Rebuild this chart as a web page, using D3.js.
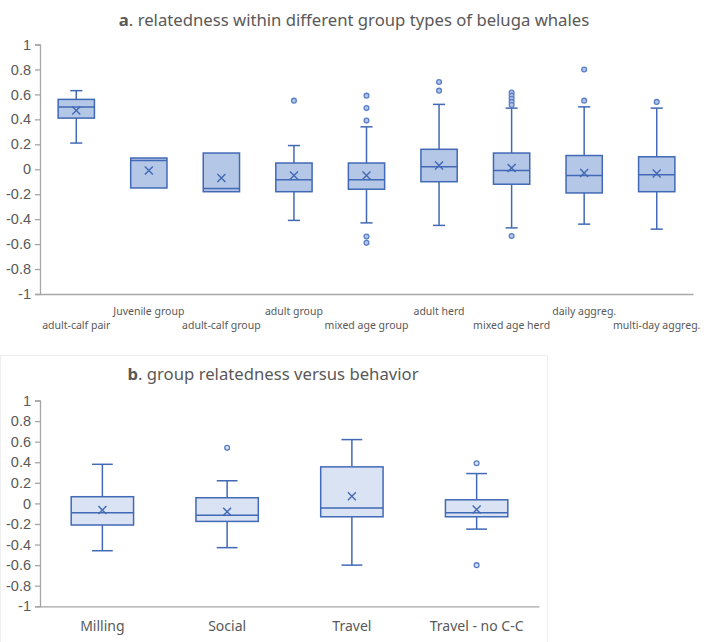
<!DOCTYPE html>
<html>
<head>
<meta charset="utf-8">
<script src="https://cdn.jsdelivr.net/npm/d3@7"></script>
<style>
  html, body { margin: 0; padding: 0; background: #fff; }
  svg { display: block; font-family: "Noto Sans", "Open Sans", sans-serif; }
</style>
</head>
<body>
<svg id="chart" width="708" height="642"></svg>
<script>
// ---------- Panel a data ----------
const categoriesA = ["adult-calf pair", "Juvenile group", "adult-calf group", "adult group",
  "mixed age group", "adult herd", "mixed age herd", "daily aggreg.", "multi-day aggreg."];
const whiskerLowA  = [0.21, -0.15, -0.18, -0.41, -0.43, -0.45, -0.47, -0.44, -0.48];
const q1A          = [0.41, -0.15, -0.18, -0.18, -0.16, -0.10, -0.12, -0.19, -0.18];
const medianA      = [0.50,  0.07, -0.155, -0.085, -0.085, 0.02, -0.01, -0.05, -0.045];
const q3A          = [0.56,  0.09,  0.13,  0.05,  0.05,  0.16,  0.13,  0.11,  0.10];
const whiskerHighA = [0.63,  0.09,  0.13,  0.19,  0.34,  0.52,  0.49,  0.50,  0.49];
const meanA        = [0.47, -0.01, -0.07, -0.05, -0.05,  0.03,  0.01, -0.03, -0.035];
const outliersA    = [[], [], [], [0.55], [0.59, 0.49, 0.39, -0.54, -0.59], [0.70, 0.63],
  [0.615, 0.59, 0.565, 0.54, 0.515, -0.535], [0.80, 0.55], [0.54]];
const yTicksA = [1, 0.8, 0.6, 0.4, 0.2, 0, -0.2, -0.4, -0.6, -0.8, -1];

// ---------- Panel b data ----------
const categoriesB = ["Milling", "Social", "Travel", "Travel - no C-C"];
const whiskerLowB  = [-0.46, -0.43, -0.60, -0.25];
const q1B          = [-0.21, -0.175, -0.13, -0.13];
const medianB      = [-0.09, -0.115, -0.045, -0.09];
const q3B          = [0.065, 0.055, 0.355, 0.035];
const whiskerHighB = [0.38, 0.22, 0.62, 0.29];
const meanB        = [-0.065, -0.08, 0.07, -0.06];
const outliersB    = [[], [0.54], [], [0.39, -0.60]];
const yTicksB = [1, 0.8, 0.6, 0.4, 0.2, 0, -0.2, -0.4, -0.6, -0.8, -1];

const svg = d3.select("#chart");
const textColor = "#595959";
const axisColor = "#a6a6a6";
const strokeColor = "#4169b5";

// faint chart-area frame of panel b
svg.append("rect").attr("x", 0.5).attr("y", 355.5).attr("width", 547).attr("height", 290)
  .attr("fill", "none").attr("stroke", "#eeeeee");

function panel(opts) {
  const g = svg.append("g");
  const x = d3.scaleBand().domain(opts.cats).range([opts.x0, opts.x1]).paddingInner(0.5).paddingOuter(0.25);
  const y = d3.scaleLinear().domain([-1, 1]).range([opts.yBottom, opts.yTop]);

  // y axis
  const yAxis = d3.axisLeft(y).tickValues(opts.yTicks).tickSize(5).tickPadding(4)
    .tickFormat(d => String(+d.toFixed(1)));
  const ya = g.append("g").attr("transform", `translate(${opts.x0},0)`).call(yAxis);
  ya.select(".domain").attr("stroke", axisColor).attr("stroke-width", 1.3);
  ya.selectAll(".tick line").attr("stroke", axisColor).attr("stroke-width", 1.3);
  ya.selectAll(".tick text").attr("fill", textColor).style("font-size", opts.tickSize + "px");

  // x axis (at -1)
  const xAxis = d3.axisBottom(x).tickSize(0).tickPadding(0).tickFormat("");
  const xa = g.append("g").attr("transform", `translate(0,${opts.yBottom})`).call(xAxis);
  xa.select(".domain").attr("stroke", axisColor).attr("stroke-width", 1.3);

  // category labels
  g.selectAll(".cat").data(opts.cats).join("text")
    .attr("class", "cat")
    .attr("x", d => x(d) + x.bandwidth() / 2)
    .attr("y", (d, i) => opts.stagger ? (i % 2 === 0 ? opts.labelY2 : opts.labelY1) : opts.labelY1)
    .attr("text-anchor", "middle")
    .attr("fill", textColor)
    .style("font-size", opts.catSize + "px")
    .text(d => d);

  const bw = x.bandwidth();
  const cap = bw / 3;
  const rows = opts.cats.map((c, i) => ({
    c, lo: opts.lo[i], q1: opts.q1[i], med: opts.med[i], q3: opts.q3[i], hi: opts.hi[i],
    mean: opts.mean[i], out: opts.out[i]
  }));
  const box = g.selectAll(".box").data(rows).join("g").attr("class", "box");

  // whiskers
  box.append("line")
    .attr("x1", d => x(d.c) + bw / 2).attr("x2", d => x(d.c) + bw / 2)
    .attr("y1", d => y(d.hi)).attr("y2", d => y(d.q3))
    .attr("stroke", strokeColor).attr("stroke-width", 1.5);
  box.append("line")
    .attr("x1", d => x(d.c) + bw / 2).attr("x2", d => x(d.c) + bw / 2)
    .attr("y1", d => y(d.q1)).attr("y2", d => y(d.lo))
    .attr("stroke", strokeColor).attr("stroke-width", 1.5);
  box.filter(d => d.hi > d.q3).append("line")
    .attr("x1", d => x(d.c) + bw / 2 - cap / 2).attr("x2", d => x(d.c) + bw / 2 + cap / 2)
    .attr("y1", d => y(d.hi)).attr("y2", d => y(d.hi))
    .attr("stroke", strokeColor).attr("stroke-width", 1.5);
  box.filter(d => d.lo < d.q1).append("line")
    .attr("x1", d => x(d.c) + bw / 2 - cap / 2).attr("x2", d => x(d.c) + bw / 2 + cap / 2)
    .attr("y1", d => y(d.lo)).attr("y2", d => y(d.lo))
    .attr("stroke", strokeColor).attr("stroke-width", 1.5);

  // box
  box.append("rect")
    .attr("x", d => x(d.c)).attr("width", bw)
    .attr("y", d => y(d.q3)).attr("height", d => y(d.q1) - y(d.q3))
    .attr("fill", opts.fill).attr("stroke", strokeColor).attr("stroke-width", 1.5);
  // median
  box.append("line")
    .attr("x1", d => x(d.c)).attr("x2", d => x(d.c) + bw)
    .attr("y1", d => y(d.med)).attr("y2", d => y(d.med))
    .attr("stroke", strokeColor).attr("stroke-width", 1.5);
  // mean X
  const m = 4;
  box.append("path")
    .attr("d", d => {
      const cx = x(d.c) + bw / 2, cy = y(d.mean);
      return `M${cx - m},${cy - m}L${cx + m},${cy + m}M${cx - m},${cy + m}L${cx + m},${cy - m}`;
    })
    .attr("stroke", strokeColor).attr("stroke-width", 1.4).attr("fill", "none");
  // outliers
  box.selectAll(".out").data(d => d.out.map(v => ({ c: d.c, v }))).join("circle")
    .attr("class", "out")
    .attr("cx", d => x(d.c) + bw / 2).attr("cy", d => y(d.v)).attr("r", 2.4)
    .attr("fill", opts.fill).attr("stroke", "#5b7fc7").attr("stroke-width", 1.3);

  // title
  const t = g.append("text").attr("x", opts.titleX).attr("y", opts.titleY)
    .attr("text-anchor", "middle").attr("fill", textColor).style("font-size", opts.titleSize + "px");
  t.append("tspan").attr("font-weight", "bold").text(opts.titleLetter);
  t.append("tspan").text(opts.titleText);
}

panel({
  cats: categoriesA, lo: whiskerLowA, q1: q1A, med: medianA, q3: q3A, hi: whiskerHighA,
  mean: meanA, out: outliersA, yTicks: yTicksA,
  x0: 40, x1: 693, yTop: 44.5, yBottom: 294,
  fill: "#b4c7e7", tickSize: 14.5, catSize: 10.5, stagger: true, labelY1: 315, labelY2: 329,
  titleX: 354, titleY: 26, titleSize: 16.7, titleLetter: "a", titleText: ". relatedness within different group types of beluga whales"
});

panel({
  cats: categoriesB, lo: whiskerLowB, q1: q1B, med: medianB, q3: q3B, hi: whiskerHighB,
  mean: meanB, out: outliersB, yTicks: yTicksB,
  x0: 40, x1: 539, yTop: 400.5, yBottom: 606.3,
  fill: "#dae3f3", tickSize: 14.5, catSize: 14, stagger: false, labelY1: 631,
  titleX: 273, titleY: 380, titleSize: 16.7, titleLetter: "b", titleText: ". group relatedness versus behavior"
});
</script>
</body>
</html>
